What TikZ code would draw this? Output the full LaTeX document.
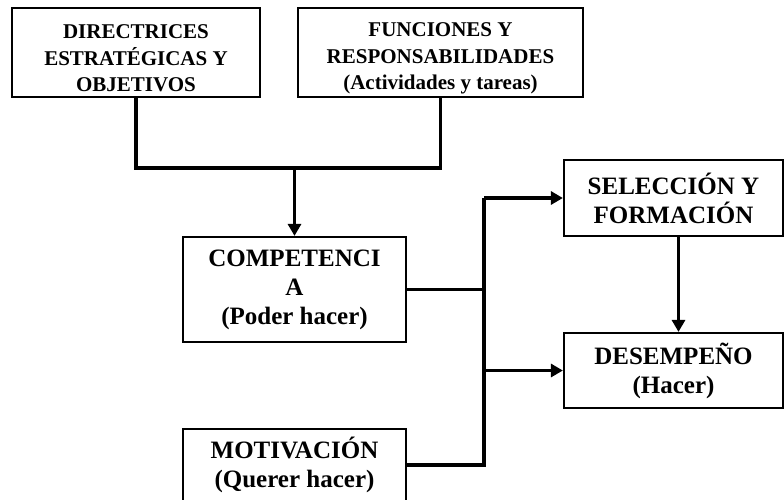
\documentclass[tikz,border=0pt]{standalone}
\usepackage{fontspec}
\setmainfont{Liberation Serif}
\usetikzlibrary{positioning,arrows.meta,calc}

\newcommand{\boxstrut}{\rule{0pt}{26pt}}

\tikzset{
	topbox/.style={draw=black,line width=2.2pt,align=center,font=\bfseries\fontsize{21}{26.5}\selectfont,inner sep=0pt},
	midbox/.style={draw=black,line width=2.2pt,align=center,font=\bfseries\fontsize{25}{29}\selectfont,inner sep=0pt},
	link/.style={line width=3.5pt},
	linkarrow/.style={line width=3.5pt,-{Triangle[length=12pt,width=13pt]}}
}

\begin{document}
\begin{tikzpicture}[x=1pt,y=-1pt]
		\useasboundingbox (0,0) rectangle (784,499);

		\node[topbox,minimum width=248pt,minimum height=89pt] (Dir) at (136,52.5) {\boxstrut DIRECTRICES\\ESTRATÉGICAS Y\\OBJETIVOS};
		\node[topbox,minimum width=285pt,minimum height=89pt] (Fun) at (440.5,52.5) {\boxstrut FUNCIONES Y\\RESPONSABILIDADES\\(Actividades y tareas)};
		\node[midbox,minimum width=223pt,minimum height=105pt] (Comp) at (294.5,289.5) {COMPETENCI\\A\\(Poder hacer)};
		\node[midbox,minimum width=223pt,minimum height=72pt,anchor=north] (Mot) at (294.5,428) {MOTIVACIÓN\\(Querer hacer)};
		\node[midbox,minimum width=219pt,minimum height=76pt] (Sel) at (673.5,198) {SELECCIÓN Y\\FORMACIÓN};
		\node[midbox,minimum width=219pt,minimum height=75pt] (Des) at (673.5,370.5) {DESEMPEÑO\\(Hacer)};

		\coordinate (J) at (Comp.north |- 0,168);
		\coordinate (K) at (484,0);

		\draw[link] (Dir.south) |- (J) -| (Fun.south);
		\draw[linkarrow] (J) -- (Comp.north);
		\draw[link] (Comp.east) -- (K |- Comp.east);
		\draw[link] (Mot.east) -| (K |- Sel.west);
		\draw[linkarrow] (K |- Sel.west) -- (Sel.west);
		\draw[linkarrow] (K |- Des.west) -- (Des.west);
		\draw[linkarrow] ($(Sel.south)+(5,0)$) -- ($(Des.north)+(5,0)$);
	\end{tikzpicture}
\end{document}
